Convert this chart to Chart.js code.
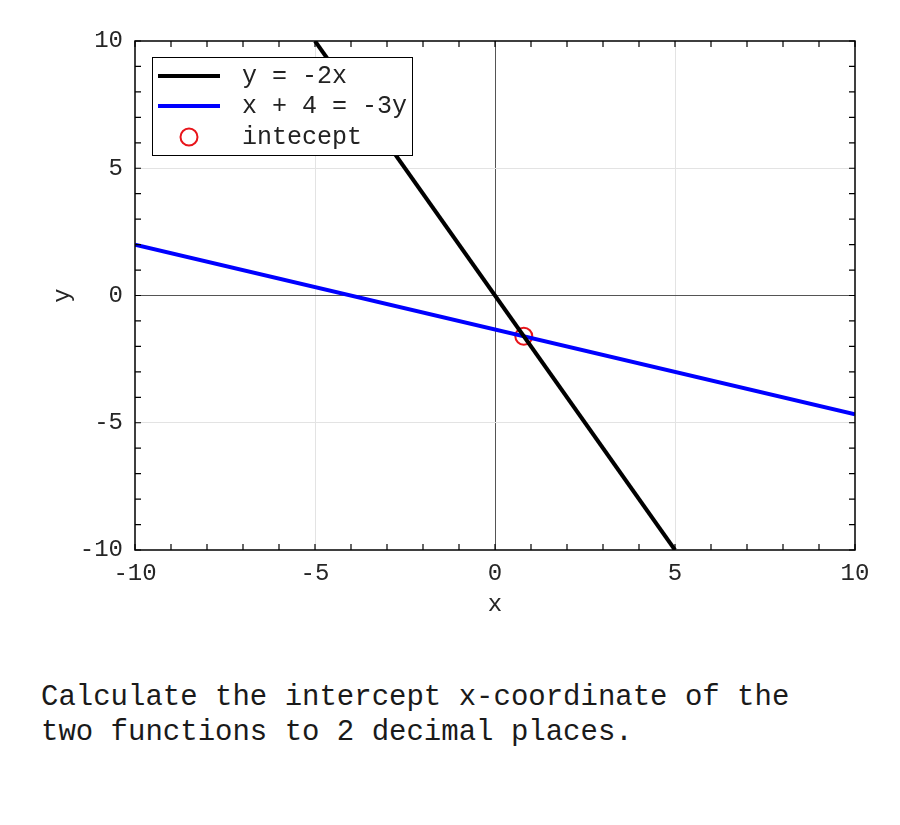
<!DOCTYPE html>
<html>
<head>
<meta charset="utf-8">
<script src="https://cdn.jsdelivr.net/npm/chart.js@4.4.1/dist/chart.umd.min.js"></script>
<style>
    body { margin: 0; background: #fff; }
    #wrap { position: relative; width: 900px; height: 825px; }
    #question {
        position: absolute; left: 41px; top: 680px;
        font: 29px 'Liberation Mono', monospace; line-height: 35px;
        color: #1a1a1a; white-space: pre;
    }
</style>
</head>
<body>
<div id="wrap">
    <canvas id="lineChart" width="900" height="650"></canvas>
    <div id="question">Calculate the intercept x-coordinate of the
two functions to 2 decimal places.</div>
</div>
<script>
// 数据
const line1X = [-5, 5];          // y = -2x
const line1Y = [10, -10];
const line2X = [-10, 10];        // x + 4 = -3y
const line2Y = [2, -4.667];
const interceptX = [0.8];
const interceptY = [-1.6];
const seriesLabels = ['y = -2x', 'x + 4 = -3y', 'intecept'];
const axisMin = -10;
const axisMax = 10;
const labelledTicks = [-10, -5, 0, 5, 10];

const FONT = "'Liberation Mono', monospace";

function toPoints(xs, ys) {
    return xs.map((x, i) => ({ x: x, y: ys[i] }));
}

function gridColor(ctx) {
    const v = ctx.tick.value;
    if (v === 0) return '#555';
    if (v === 5 || v === -5) return '#e3e3e3';
    return 'rgba(0,0,0,0)';
}

// 边框、内向刻度和图例
const framePlugin = {
    id: 'frame',
    afterDatasetsDraw(chart) {
        const c = chart.ctx;
        const a = chart.chartArea;
        const xs = chart.scales.x;
        const ys = chart.scales.y;
        const len = 6;
        c.save();
        c.strokeStyle = '#000';
        c.lineWidth = 1.5;
        c.strokeRect(a.left, a.top, a.right - a.left, a.bottom - a.top);
        c.lineWidth = 1.2;
        c.beginPath();
        xs.ticks.forEach(t => {
            const px = xs.getPixelForValue(t.value);
            c.moveTo(px, a.bottom); c.lineTo(px, a.bottom - len);
            c.moveTo(px, a.top); c.lineTo(px, a.top + len);
        });
        ys.ticks.forEach(t => {
            const py = ys.getPixelForValue(t.value);
            c.moveTo(a.left, py); c.lineTo(a.left + len, py);
            c.moveTo(a.right, py); c.lineTo(a.right - len, py);
        });
        c.stroke();

        // 图例
        const bx = 152.5, by = 57.5, bw = 260, bh = 98;
        c.fillStyle = '#fff';
        c.fillRect(bx, by, bw, bh);
        c.strokeStyle = '#000';
        c.lineWidth = 1;
        c.strokeRect(bx, by, bw, bh);
        const rows = [76, 106, 137];
        c.font = '25px ' + FONT;
        c.textBaseline = 'middle';
        chart.data.datasets.forEach((ds, i) => {
            const ry = rows[i];
            if (ds.showLine) {
                c.strokeStyle = ds.borderColor;
                c.lineWidth = ds.borderWidth;
                c.beginPath();
                c.moveTo(158, ry); c.lineTo(220, ry);
                c.stroke();
            } else {
                c.strokeStyle = ds.pointBorderColor;
                c.lineWidth = ds.pointBorderWidth;
                c.beginPath();
                c.arc(189, ry, ds.pointRadius, 0, Math.PI * 2);
                c.stroke();
            }
            c.fillStyle = '#222';
            c.fillText(ds.label, 242, ry);
        });
        c.restore();
    }
};

function createLineChart() {
    const ctx = document.getElementById('lineChart');
    new Chart(ctx, {
        type: 'scatter',
        data: {
            datasets: [{
                label: seriesLabels[0],
                data: toPoints(line1X, line1Y),
                showLine: true,
                borderColor: '#000',
                borderWidth: 4,
                pointRadius: 0
            }, {
                label: seriesLabels[1],
                data: toPoints(line2X, line2Y),
                showLine: true,
                borderColor: '#0000ff',
                borderWidth: 4,
                pointRadius: 0
            }, {
                label: seriesLabels[2],
                data: toPoints(interceptX, interceptY),
                showLine: false,
                pointRadius: 8.5,
                pointBorderColor: '#e8141a',
                pointBackgroundColor: 'rgba(0,0,0,0)',
                pointBorderWidth: 2
            }]
        },
        options: {
            responsive: false,
            animation: false,
            layout: { padding: { top: 41, right: 45, left: 0, bottom: 0 } },
            plugins: {
                legend: { display: false },
                tooltip: { enabled: false }
            },
            scales: {
                x: {
                    type: 'linear',
                    min: axisMin,
                    max: axisMax,
                    border: { display: false },
                    grid: { color: gridColor, lineWidth: 1, drawTicks: false },
                    ticks: {
                        stepSize: 1,
                        autoSkip: false,
                        maxRotation: 0,
                        padding: 9,
                        color: '#262626',
                        font: { family: FONT, size: 24 },
                        callback: v => labelledTicks.includes(v) ? String(v) : ''
                    },
                    title: {
                        display: true,
                        text: 'x',
                        color: '#262626',
                        font: { family: FONT, size: 24 },
                        padding: { top: 0, bottom: 31 }
                    },
                    afterFit: scale => { scale.height = 100; }
                },
                y: {
                    type: 'linear',
                    min: axisMin,
                    max: axisMax,
                    border: { display: false },
                    grid: { color: gridColor, lineWidth: 1, drawTicks: false },
                    ticks: {
                        stepSize: 1,
                        autoSkip: false,
                        padding: 12,
                        color: '#262626',
                        font: { family: FONT, size: 24 },
                        callback: v => labelledTicks.includes(v) ? String(v) : ''
                    },
                    title: {
                        display: true,
                        text: 'y',
                        color: '#262626',
                        font: { family: FONT, size: 24 },
                        padding: { top: 48, bottom: 0 }
                    },
                    afterFit: scale => { scale.width = 135; }
                }
            }
        },
        plugins: [framePlugin]
    });
}

document.addEventListener('DOMContentLoaded', createLineChart);
</script>
</body>
</html>
